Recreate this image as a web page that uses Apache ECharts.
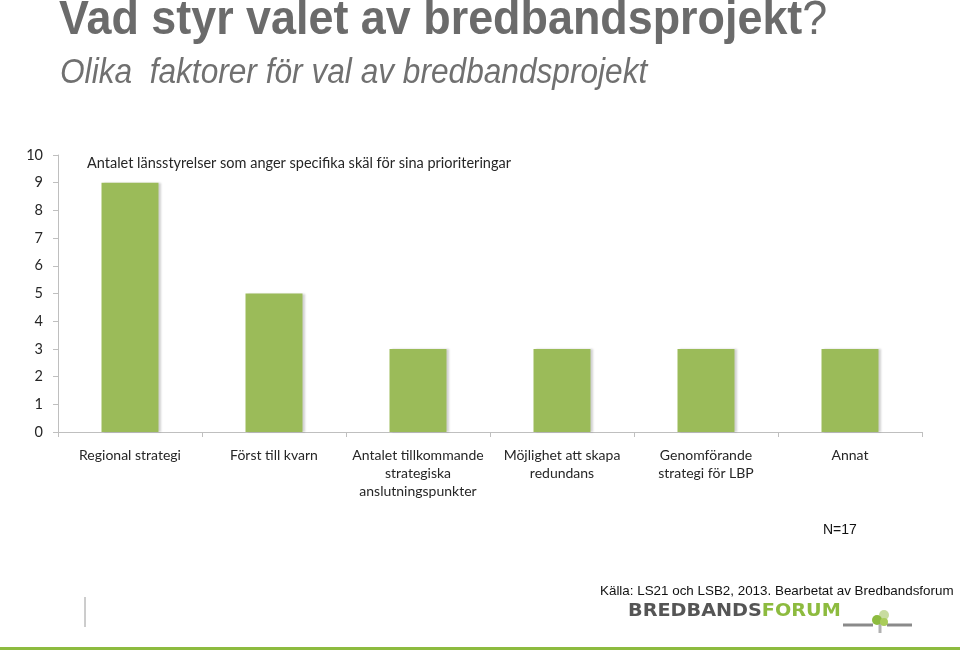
<!DOCTYPE html>
<html>
<head>
<meta charset="utf-8">
<script src="https://cdn.jsdelivr.net/npm/echarts@6/dist/echarts.min.js"></script>
<style>
html,body{margin:0;padding:0;background:#fff;}
#chart{width:960px;height:651px;}
</style>
</head>
<body>
<div id="chart"></div>
<script>
const categories = [
  "Regional strategi",
  "Först till kvarn",
  "Antalet tillkommande\nstrategiska\nanslutningspunkter",
  "Möjlighet att skapa\nredundans",
  "Genomförande\nstrategi för LBP",
  "Annat"
];
const values = [9, 5, 3, 3, 3, 3];
const seriesName = "Antalet länsstyrelser som anger specifika skäl för sina prioriteringar";
const yTicks = [0, 10, 1]; // min, max, interval
const titleMain = "Vad styr valet av bredbandsprojekt";
const subtitle = "Olika  faktorer för val av bredbandsprojekt";

const chart = echarts.init(document.getElementById('chart'));
const option = {
  backgroundColor: '#ffffff',
  animation: false,
  legend: {
    data: [{name: seriesName, icon: 'none'}],
    left: 77, top: 151,
    itemWidth: 0, itemHeight: 0,
    textStyle: {fontFamily: 'Lato', fontSize: 14.5, color: '#262626'}
  },
  grid: {left: 58, right: 38, top: 155, bottom: 219, containLabel: false},
  xAxis: {
    type: 'category',
    data: categories,
    axisLine: {lineStyle: {color: '#bfbfbf', width: 1}},
    axisTick: {show: true, alignWithLabel: false, length: 5, lineStyle: {color: '#bfbfbf'}},
    axisLabel: {interval: 0, margin: 14, fontFamily: 'Lato', fontSize: 14, color: '#262626', lineHeight: 18, align: 'center'}
  },
  yAxis: {
    type: 'value',
    min: yTicks[0], max: yTicks[1], interval: yTicks[2],
    splitLine: {show: false},
    axisLine: {show: true, lineStyle: {color: '#bfbfbf'}},
    axisTick: {show: true, length: 5, lineStyle: {color: '#bfbfbf'}},
    axisLabel: {margin: 15, fontFamily: 'Lato', fontSize: 14.5, color: '#262626'}
  },
  series: [{
    name: seriesName,
    type: 'bar',
    data: values,
    barWidth: 57,
    itemStyle: {color: '#9bbb59', shadowColor: 'rgba(0,0,0,0.18)', shadowOffsetX: 2, shadowOffsetY: 0, shadowBlur: 2}
  }],
  graphic: [
    {type: 'text', x: 59, y: -3, scaleX: 0.935, style: {text: '{b|' + titleMain + '}{q|?}', rich: {
      b: {fontFamily: 'Liberation Sans', fontWeight: 'bold', fontSize: 48, fill: '#6b6b6b'},
      q: {fontFamily: 'Liberation Sans', fontWeight: 'normal', fontSize: 48, fill: '#6b6b6b'}
    }}},
    {type: 'text', x: 60, y: 56, scaleX: 0.917, style: {text: subtitle, font: 'italic 34.5px "Liberation Sans"', fill: '#707070'}},
    {type: 'text', left: 823, top: 523, style: {text: 'N=17', font: '14px "Liberation Sans"', fill: '#111'}},
    {type: 'text', left: 600, top: 585, style: {text: 'Källa: LS21 och LSB2, 2013. Bearbetat av Bredbandsforum', font: '13.4px "Liberation Sans"', fill: '#111'}},
    {type: 'text', x: 628, y: 603, scaleX: 1.13, style: {text: '{d|BREDBANDS}{g|FORUM}', rich: {
      d: {fontFamily: 'DejaVu Sans', fontWeight: 'bold', fontSize: 17, fill: '#555555'},
      g: {fontFamily: 'DejaVu Sans', fontWeight: 'bold', fontSize: 17, fill: '#8dbb3f'}
    }}},
    {type: 'line', shape: {x1: 843, y1: 625, x2: 873, y2: 625}, style: {stroke: '#8a8a8a', lineWidth: 3}},
    {type: 'line', shape: {x1: 887, y1: 625, x2: 912, y2: 625}, style: {stroke: '#8a8a8a', lineWidth: 3}},
    {type: 'line', shape: {x1: 880, y1: 620, x2: 880, y2: 633}, style: {stroke: '#b0b0b0', lineWidth: 3}},
    {type: 'circle', shape: {cx: 884, cy: 615, r: 5}, style: {fill: '#c8dca0'}},
    {type: 'circle', shape: {cx: 877, cy: 620, r: 5}, style: {fill: '#8dbb3f'}},
    {type: 'circle', shape: {cx: 884, cy: 622, r: 4}, style: {fill: '#a9cc5a'}},
    {type: 'line', shape: {x1: 85, y1: 597, x2: 85, y2: 627}, style: {stroke: '#9a9a9a', lineWidth: 1}},
    {type: 'line', shape: {x1: 0, y1: 648.5, x2: 960, y2: 648.5}, style: {stroke: '#8dbb3f', lineWidth: 3}}
  ]
};
chart.setOption(option);
</script>
</body>
</html>
